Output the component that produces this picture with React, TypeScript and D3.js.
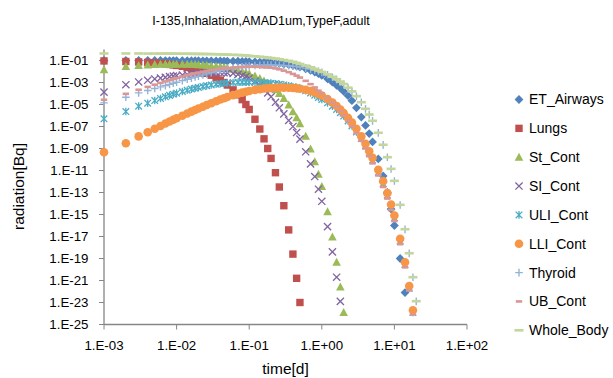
import React from "react";
import * as d3 from "d3";

// time grid [d]
const TIME = [
  0.001, 0.002, 0.003, 0.004, 0.005, 0.006, 0.007, 0.008, 0.009,
  0.01, 0.012, 0.014, 0.016, 0.018, 0.02, 0.023, 0.026, 0.03, 0.035, 0.04, 0.045, 0.05, 0.06, 0.07, 0.08, 0.09,
  0.1, 0.12, 0.14, 0.16, 0.18, 0.2, 0.23, 0.26, 0.3, 0.35, 0.4, 0.45, 0.5, 0.6, 0.7, 0.8, 0.9,
  1, 1.2, 1.4, 1.6, 1.8, 2, 2.3, 2.6, 3, 3.5, 4, 4.5, 5, 6, 7, 8, 9,
  10, 12, 14, 16, 18, 20,
];

// log10 of radiation [Bq], one entry per TIME index (series stop when below the axis)
const ET_AIRWAYS_LOG = [
  -1.0, -1.0, -1.0, -1.0, -1.0, -1.0, -1.01, -1.01, -1.01,
  -1.01, -1.01, -1.02, -1.02, -1.02, -1.02, -1.03, -1.03, -1.03, -1.04, -1.04, -1.05, -1.05, -1.06, -1.07, -1.08, -1.09,
  -1.1, -1.12, -1.14, -1.16, -1.18, -1.2, -1.23, -1.27, -1.32, -1.38, -1.45, -1.52, -1.6, -1.75, -1.9, -2.05, -2.2,
  -2.36, -2.66, -2.97, -3.25, -3.5, -3.8, -4.2, -4.65, -5.3, -6.14, -6.9, -7.64, -8.4, -9.95, -11.5, -13.0, -14.5,
  -16.0, -19.0, -22.1,
];
const LUNGS_LOG = [
  -1.04, -1.09, -1.13, -1.18, -1.22, -1.27, -1.31, -1.36, -1.4,
  -1.45, -1.53, -1.62, -1.71, -1.8, -1.89, -2.02, -2.16, -2.34, -2.56, -2.78, -3.0, -3.23, -3.67, -4.12, -4.56, -5.0,
  -5.45, -6.34, -7.23, -8.12, -9.0, -9.9, -11.2, -12.5, -14.2, -16.4, -18.6, -20.8, -23.0,
];
const ST_CONT_LOG = [
  -1.85, -1.55, -1.45, -1.4, -1.37, -1.35, -1.34, -1.33, -1.33,
  -1.33, -1.33, -1.34, -1.35, -1.36, -1.38, -1.4, -1.43, -1.47, -1.52, -1.57, -1.62, -1.68, -1.79, -1.9, -2.0, -2.1,
  -2.2, -2.42, -2.63, -2.87, -3.08, -3.3, -3.65, -4.0, -4.45, -5.05, -5.65, -6.2, -6.75, -7.88, -9.05, -10.2, -11.33,
  -12.45, -14.75, -17.05, -19.35, -21.6, -23.9,
];
const SI_CONT_LOG = [
  -3.87, -3.2, -2.95, -2.8, -2.68, -2.6, -2.53, -2.47, -2.42,
  -2.38, -2.32, -2.27, -2.23, -2.2, -2.17, -2.14, -2.12, -2.1, -2.09, -2.09, -2.1, -2.12, -2.18, -2.26, -2.36, -2.47,
  -2.6, -2.9, -3.25, -3.6, -3.95, -4.3, -4.8, -5.3, -5.85, -6.45, -7.0, -7.55, -8.15, -9.3, -10.4, -11.55, -12.7,
  -13.8, -16.1, -18.4, -20.7, -22.9,
];
const ULI_CONT_LOG = [
  -6.3, -5.64, -5.15, -4.88, -4.64, -4.45, -4.3, -4.17, -4.06,
  -3.97, -3.82, -3.7, -3.6, -3.52, -3.45, -3.37, -3.3, -3.23, -3.16, -3.11, -3.07, -3.04, -3.0, -2.98, -2.97, -2.97,
  -2.97, -2.98, -3.0, -3.02, -3.04, -3.07, -3.11, -3.16, -3.22, -3.3, -3.38, -3.47, -3.56, -3.75, -3.95, -4.15, -4.36,
  -4.55, -4.85, -5.15, -5.45, -5.75, -6.05, -6.5, -6.95, -7.5, -8.1, -8.75, -9.4, -10.05, -11.15, -12.2, -13.25, -14.3,
  -15.3, -17.4, -19.55, -21.7, -23.9,
];
const LLI_CONT_LOG = [
  -9.34, -8.52, -7.9, -7.52, -7.2, -6.95, -6.73, -6.55, -6.39,
  -6.25, -6.02, -5.82, -5.65, -5.5, -5.37, -5.2, -5.05, -4.88, -4.7, -4.55, -4.43, -4.32, -4.15, -4.02, -3.92, -3.84,
  -3.77, -3.67, -3.6, -3.55, -3.52, -3.5, -3.48, -3.47, -3.47, -3.48, -3.5, -3.53, -3.57, -3.66, -3.77, -3.9, -4.04,
  -4.18, -4.5, -4.82, -5.14, -5.46, -5.78, -6.22, -6.65, -7.2, -7.9, -8.57, -9.25, -9.85, -10.94, -11.97, -13.06, -14.09,
  -15.09, -17.2, -19.34, -21.5, -23.7,
];
const THYROID_LOG = [
  -4.85, -4.34, -3.94, -3.73, -3.55, -3.4, -3.28, -3.17, -3.07,
  -2.98, -2.83, -2.7, -2.6, -2.5, -2.42, -2.31, -2.22, -2.11, -2.0, -1.91, -1.84, -1.78, -1.69, -1.62, -1.57, -1.53,
  -1.5, -1.46, -1.43, -1.42, -1.41, -1.41, -1.42, -1.43, -1.45, -1.48, -1.52, -1.56, -1.6, -1.69, -1.78, -1.88, -1.98,
  -2.08, -2.3, -2.52, -2.74, -2.96, -3.17, -3.5, -3.82, -4.25, -4.8, -5.4, -5.92, -6.49, -7.58, -8.67, -9.8, -10.86,
  -11.95, -14.13, -16.35, -18.53, -20.71, -22.9,
];
const UB_CONT_LOG = [
  -4.57, -4.03, -3.66, -3.4, -3.2, -3.04, -2.9, -2.78, -2.68,
  -2.59, -2.45, -2.34, -2.25, -2.17, -2.1, -2.02, -1.95, -1.88, -1.81, -1.76, -1.72, -1.69, -1.64, -1.61, -1.59, -1.58,
  -1.57, -1.57, -1.58, -1.6, -1.62, -1.65, -1.72, -1.8, -1.92, -2.06, -2.22, -2.38, -2.55, -2.85, -3.15, -3.45, -3.75,
  -4.0, -4.4, -4.8, -5.2, -5.6, -6.0, -6.5, -7.0, -7.6, -8.3, -9.0, -9.7, -10.35, -11.45, -12.5, -13.55, -14.6,
  -15.6, -17.7, -19.8, -21.9, -24.1,
];
const WHOLE_BODY_LOG = [
  -0.36, -0.36, -0.36, -0.37, -0.37, -0.37, -0.37, -0.37, -0.38,
  -0.38, -0.38, -0.39, -0.39, -0.4, -0.4, -0.41, -0.41, -0.42, -0.43, -0.44, -0.45, -0.46, -0.48, -0.5, -0.52, -0.54,
  -0.58, -0.62, -0.66, -0.7, -0.74, -0.78, -0.83, -0.88, -0.95, -1.03, -1.12, -1.22, -1.32, -1.47, -1.62, -1.77, -1.9,
  -2.04, -2.26, -2.48, -2.7, -2.92, -3.14, -3.47, -3.8, -4.24, -4.79, -5.39, -5.91, -6.48, -7.57, -8.66, -9.79, -10.85,
  -11.94, -14.12, -16.34, -18.52, -20.7, -22.88,
];

const SERIES_NAMES = [
  "ET_Airways", "Lungs", "St_Cont", "SI_Cont", "ULI_Cont", "LLI_Cont", "Thyroid", "UB_Cont", "Whole_Body",
];
const SERIES_LOGS = [
  ET_AIRWAYS_LOG, LUNGS_LOG, ST_CONT_LOG, SI_CONT_LOG, ULI_CONT_LOG, LLI_CONT_LOG, THYROID_LOG, UB_CONT_LOG, WHOLE_BODY_LOG,
];
const SERIES_COLORS = [
  "#4F81BD", "#C0504D", "#9BBB59", "#8064A2", "#4BACC6", "#F79646", "#95B3D7", "#D99694", "#C3D69B",
];
const SERIES_MARKERS = ["diamond", "square", "triangle", "x", "star", "circle", "plus", "dash", "longdash"];

const X_TICKS = [1e-3, 1e-2, 1e-1, 1, 10, 100];
const X_TICK_LABELS = ["1.E-03", "1.E-02", "1.E-01", "1.E+00", "1.E+01", "1.E+02"];
const Y_EXPONENTS = [-1, -3, -5, -7, -9, -11, -13, -15, -17, -19, -21, -23, -25];

const TITLE = "I-135,Inhalation,AMAD1um,TypeF,adult";
const FONT = "'Liberation Sans', Arial, sans-serif";

function Marker({ kind, cx, cy, color }: { kind: string; cx: number; cy: number; color: string }) {
  switch (kind) {
    case "diamond":
      return <path d={`M${cx},${cy - 4.4}L${cx + 4.4},${cy}L${cx},${cy + 4.4}L${cx - 4.4},${cy}Z`} fill={color} />;
    case "square":
      return <rect x={cx - 3.7} y={cy - 3.7} width={7.4} height={7.4} fill={color} />;
    case "triangle":
      return <path d={`M${cx},${cy - 4.5}L${cx + 4.3},${cy + 3.5}L${cx - 4.3},${cy + 3.5}Z`} fill={color} />;
    case "x":
      return (
        <path d={`M${cx - 3.6},${cy - 3.6}L${cx + 3.6},${cy + 3.6}M${cx + 3.6},${cy - 3.6}L${cx - 3.6},${cy + 3.6}`}
          stroke={color} strokeWidth={1.3} fill="none" />
      );
    case "star":
      return (
        <path d={`M${cx - 3.3},${cy - 3.3}L${cx + 3.3},${cy + 3.3}M${cx + 3.3},${cy - 3.3}L${cx - 3.3},${cy + 3.3}M${cx},${cy - 3.8}L${cx},${cy + 3.8}`}
          stroke={color} strokeWidth={1.3} fill="none" />
      );
    case "circle":
      return <circle cx={cx} cy={cy} r={4.3} fill={color} />;
    case "plus":
      return (
        <path d={`M${cx - 3.8},${cy}L${cx + 3.8},${cy}M${cx},${cy - 3.8}L${cx},${cy + 3.8}`}
          stroke={color} strokeWidth={1.4} fill="none" />
      );
    case "dash":
      return <rect x={cx - 3.2} y={cy - 1.3} width={6.4} height={2.6} fill={color} />;
    case "longdash":
      return <rect x={cx - 4.5} y={cy - 1.3} width={9} height={2.6} fill={color} />;
    default:
      return null;
  }
}

export default function App() {
  const W = 613;
  const H = 378;
  const x = d3.scaleLog().domain([1e-3, 1e2]).range([104, 467]);
  const y = d3.scaleLog().domain([1e-25, 1]).range([324.5, 49.5]);
  const axisColor = "#868686";
  const legendX = 519;
  const legendY0 = 99.5;
  const legendStep = 28.85;

  return (
    <svg width={W} height={H} style={{ position: "absolute", left: 0, top: 0, background: "#fff" }}
      fontFamily={FONT}>
      <rect x={0} y={0} width={W} height={H} fill="#fff" />
      <text x={261} y={25} textAnchor="middle" fontSize={12.5} fill="#000">{TITLE}</text>

      {/* axes */}
      <line x1={x(1e-3)} x2={x(1e-3)} y1={y(1)} y2={y(1e-25)} stroke={axisColor} strokeWidth={1.3} />
      <line x1={x(1e-3)} x2={x(1e2)} y1={y(1e-25)} y2={y(1e-25)} stroke={axisColor} strokeWidth={1.3} />
      {Y_EXPONENTS.map((e) => (
        <g key={e}>
          <line x1={x(1e-3) - 5} x2={x(1e-3)} y1={y(10 ** e)} y2={y(10 ** e)} stroke={axisColor} strokeWidth={1} />
          <text x={88.5} y={y(10 ** e)} dy="0.35em" textAnchor="end" fontSize={13.3} fill="#000">
            {`1.E-${String(-e).padStart(2, "0")}`}
          </text>
        </g>
      ))}
      {X_TICKS.map((t, i) => (
        <g key={t}>
          <line x1={x(t)} x2={x(t)} y1={y(1e-25)} y2={y(1e-25) + 5} stroke={axisColor} strokeWidth={1} />
          <text x={x(t)} y={345} dy="0.35em" textAnchor="middle" fontSize={13.3} fill="#000">{X_TICK_LABELS[i]}</text>
        </g>
      ))}
      <text x={285.5} y={369} dy="0.35em" textAnchor="middle" fontSize={15.5} fill="#000">time[d]</text>
      <text transform={`translate(19,186.5) rotate(-90)`} dy="0.35em" textAnchor="middle" fontSize={15.5} fill="#000">
        radiation[Bq]
      </text>

      {/* data */}
      {SERIES_LOGS.map((vals, si) => (
        <g key={SERIES_NAMES[si]}>
          {vals.map((v, i) =>
            v >= -25.3 ? (
              <Marker key={i} kind={SERIES_MARKERS[si]} cx={x(TIME[i])} cy={y(10 ** v)} color={SERIES_COLORS[si]} />
            ) : null
          )}
        </g>
      ))}

      {/* legend */}
      {SERIES_NAMES.map((name, i) => (
        <g key={name}>
          <Marker kind={SERIES_MARKERS[i]} cx={legendX} cy={legendY0 + i * legendStep} color={SERIES_COLORS[i]} />
          <text x={529} y={legendY0 + i * legendStep} dy="0.35em" fontSize={14} fill="#000">{name}</text>
        </g>
      ))}
    </svg>
  );
}
